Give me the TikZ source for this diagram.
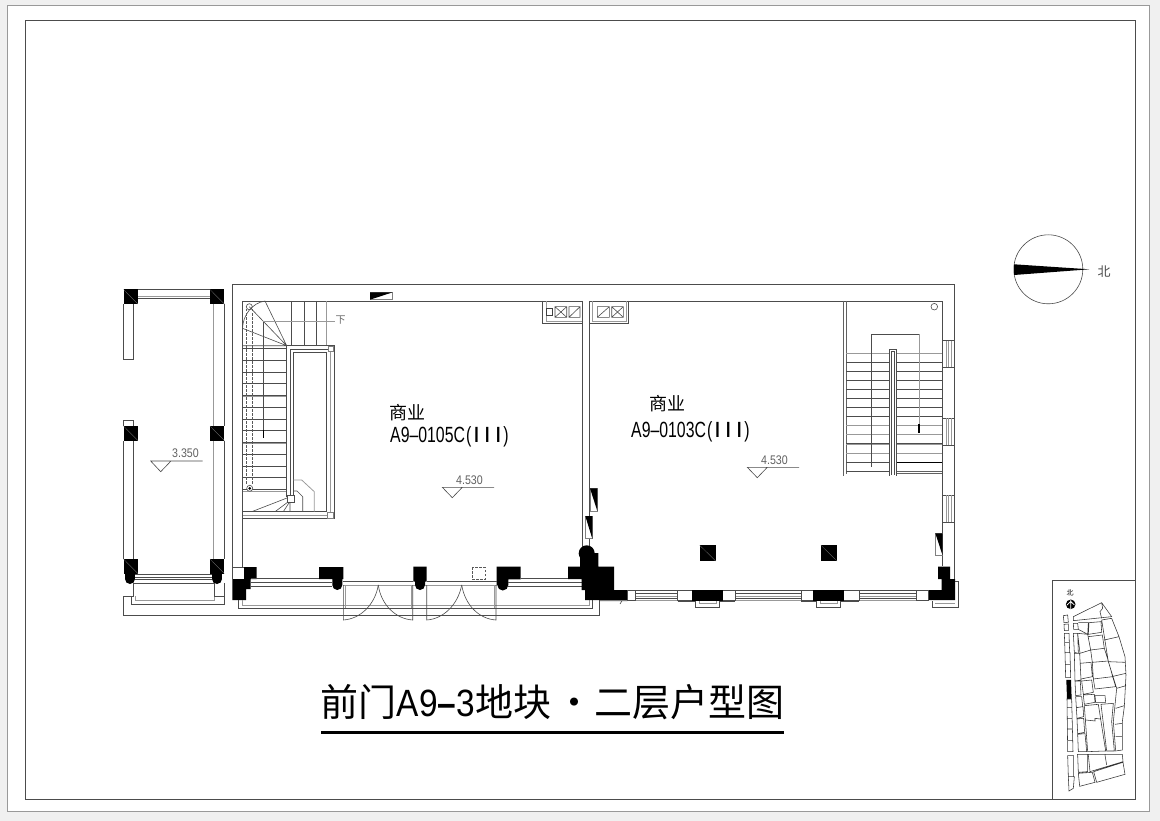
\documentclass[tikz,border=0pt]{standalone}
\usepackage{fontspec}
\setmainfont{Liberation Sans}
\newfontfamily\cjk{Noto Sans CJK SC}
\newcommand{\narrowtxt}[2]{\scalebox{#1}[1]{#2}}
\newcommand{\classthree}{\kern1.5pt(\kern4pt\textbf{I\kern9pt I\kern9pt I}\kern4pt)}
\tikzset{
  planline/.style={draw=black!70, line width=.6pt},
  paleline/.style={draw=black!40, line width=.75pt},
  dashline/.style={draw=black!65, line width=.55pt, dashed, dash pattern=on 2.5pt off 1.5pt},
  solidblock/.style={fill=black, draw=none},
  glassbox/.style={draw=black!50, line width=.5pt, fill=white},
  lvltext/.style={inner sep=0pt, text=black!62, font=\fontsize{12.5}{13}\selectfont},
  roomtext/.style={inner sep=0pt, anchor=west, font=\cjk\fontsize{18}{20}\selectfont},
  codetext/.style={inner sep=0pt, anchor=west, font=\fontsize{22}{23}\selectfont},
}
\begin{document}
\begin{tikzpicture}[x=1pt,y=-1pt]
\useasboundingbox (0,0) rectangle (1160,821);
\fill[black!6] (0,0) rectangle (1160,821);
\fill[white] (7,5) rectangle (1149,811);
% sheet frame
\draw[paleline] (7,5) rectangle (1149,811);
\draw[planline] (25,20) rectangle (1135,799);
% veranda
\foreach \cx/\cy in {123.5/289.5,210/289.5,123.5/426,210/426,123.5/559,210/559}{
  \fill[solidblock] (\cx,\cy) rectangle ++(14.3,14.5);
  \draw[black!55,line width=.3pt] (\cx,\cy) -- ++(14.3,14.5);
}
\fill[solidblock] (125,573) rectangle (135,579);
\fill[solidblock] (135,579) arc[start angle=0,end angle=180,radius=5] -- cycle;
\fill[solidblock] (212,573) rectangle (222,579);
\fill[solidblock] (222,579) arc[start angle=0,end angle=180,radius=5] -- cycle;
\draw[planline] (138,289.5) -- (210,289.5) (138,298) -- (210,298);
\draw[paleline] (138,296) -- (210,296);
\draw[planline] (123.5,304) -- (123.5,359) -- (133.5,359) -- (133.5,304);
\draw[planline] (123.5,426) -- (123.5,420) -- (133.5,420) -- (133.5,426);
\draw[planline] (123.5,441) -- (123.5,559) (133.5,441) -- (133.5,559);
\draw[planline] (224,304) -- (224,426) (224,441) -- (224,559);
\draw[paleline] (213.5,304) -- (213.5,426) (213.5,441) -- (213.5,559);
\draw[planline] (135,574) -- (212,574) (135,577) -- (212,577) (135,579.5) -- (212,579.5);
\draw[planline] (133.5,583) -- (214,583) (133.5,583) -- (133.5,596) (214,583) -- (214,596);
\draw[planline] (224,583) -- (224,604) -- (131,604) -- (131,596);
\draw[paleline] (135,596) -- (135,600.5) -- (214,600.5) -- (214,596);
\draw[planline] (133.5,596) -- (123.5,596) -- (123.5,615) -- (599.5,615) -- (599.5,600);
\draw[planline] (214,596) -- (224,596);
\node[lvltext] (lvlveranda) at (185.5,453.5) {\narrowtxt{.85}{3.350}};
\draw[planline] (202.5,461) -- (150.7,461) -- (160.7,471.7) -- (171,461);
% outer wall
\draw[planline] (232.3,567.7) -- (232.3,284) -- (954.7,284) -- (954.7,581);
\draw[planline] (242.5,567.7) -- (242.5,301) -- (582.3,301) (589.3,301) -- (942,301) -- (942,566);
% stair, left unit
\foreach \ty in {348.3,360.2,371.9,383.5,395.3,407,419,430.7,442.5,454,466,477.7,489.7}{
  \draw[planline] (242.5,\ty) -- (286.7,\ty);
}
\draw[paleline] (242.5,396) -- (286.7,396) (242.5,443) -- (286.7,443) (242.5,491) -- (286.7,491);
\foreach \tx in {291.7,304.3,316.7}{
  \draw[planline] (\tx,301) -- (\tx,345.7);
}
\draw[paleline] (326.7,301) -- (326.7,345.7);
\draw[planline] (286.7,345.7) -- (265,301) (286.7,345.7) -- (249.3,306.7) (286.7,345.7) -- (242.5,328.3) (286.7,345.7) -- (242.5,345.7);
\draw[planline] (265,301) .. controls (252,303) and (243,315) .. (242.5,328.3);
\draw[planline] (249.3,306.7) circle[radius=3];
\draw[dashline] (246.7,309) -- (246.7,485) (252.7,309) -- (252.7,485);
\draw[planline,fill=white] (249.7,488.3) circle[radius=3];
\fill[solidblock] (249.7,488.3) circle[radius=1.5];
\draw[paleline] (263.3,321.7) -- (335,321.7);
\draw[planline] (263.3,321.7) -- (263.3,430);
\draw[black,line width=1.4pt] (263.3,430) -- (263.3,438.3);
\node[inner sep=0pt,text=black!60,font=\cjk\fontsize{10}{10}\selectfont] (txtdown) at (340.5,320) {下};
\draw[planline] (286.7,496.7) -- (286.7,345.7) -- (334,345.7) -- (334,518.3) -- (242.5,518.3);
\draw[planline] (290,496) -- (290,349) -- (330,349) (293.3,496) -- (293.3,352.3) -- (326.7,352.3) (326.7,352.3) -- (326.7,511.7) -- (242.5,511.7);
\draw[paleline] (330,349) -- (330,515) -- (242.5,515);
\draw[glassbox] (328,346) rectangle (333.5,351);
\draw[glassbox] (327.5,512.5) rectangle (333,518);
\draw[glassbox,draw=black!70] (287,495.5) rectangle (294,502);
\draw[planline] (287,498) -- (251.7,511.7) (288,502) -- (275,511.7) (289.5,502) -- (283.3,511.7) (290,502) -- (290,511.7);
\draw[paleline] (293.3,480) -- (301.7,480) -- (314.3,491.7) -- (314.3,511.7);
\draw[planline] (293.3,491) -- (297,491) -- (302.7,496.7) -- (302.7,511.7);
% front wall, left unit
\fill[solidblock] (244,567) rectangle (256.7,579) (232.3,579) rectangle (250.7,589) (232.3,589) rectangle (246,600);
\draw[planline] (232.3,567.7) -- (244,567.7) (232.3,567.7) -- (232.3,579);
\fill[solidblock] (319,567) rectangle (343.3,579) (332.3,579) rectangle (342.3,585);
\fill[solidblock] (342.3,585) arc[start angle=0,end angle=180,radius=5] -- cycle;
\fill[solidblock] (413.3,566.7) rectangle (426.7,581.7) (415,581.7) rectangle (425,585);
\fill[solidblock] (425,585) arc[start angle=0,end angle=180,radius=5] -- cycle;
\fill[solidblock] (496.7,566.7) rectangle (508.3,585) (508.3,566.7) rectangle (520.7,579.3);
\fill[solidblock] (508.3,585) arc[start angle=0,end angle=180,radius=5.5] -- cycle;
\draw[planline] (250.7,578.3) -- (319,578.3) (250.7,582.3) -- (332.3,582.3) (250.7,586.3) -- (332.3,586.3);
\draw[planline] (343,581.7) -- (413.3,581.7) (426.7,581.7) -- (497,581.7);
\draw[paleline] (343,585) -- (415,585) (425,585) -- (497,585);
\draw[planline] (520.7,578.3) -- (583,578.3) (508,582.3) -- (583,582.3) (508,586.7) -- (583,586.7);
\draw[planline] (238.3,600) -- (238.3,608.3) -- (592.7,608.3) -- (592.7,600);
\draw[paleline] (242.3,600) -- (242.3,605) -- (589.3,605) -- (589.3,600);
% doors
\draw[planline] (343.3,585) -- (343.3,620) .. controls (360,619) and (375,605) .. (378.3,585);
\draw[planline] (412.7,585) -- (412.7,620) .. controls (396,619) and (381,605) .. (378.3,585);
\draw[planline] (426.7,585) -- (426.7,620) .. controls (443,619) and (458,605) .. (461.7,585);
\draw[planline] (496,585) -- (496,620) .. controls (479,619) and (465,605) .. (461.7,585);
\draw[paleline] (345,585) -- (345,608) (411,585) -- (411,608) (494.5,585) -- (494.5,608);
\draw[dashline] (472.3,567.3) rectangle (485,579.3);
% party wall and its pier
\draw[planline] (582.3,301) -- (582.3,550) (589.3,301) -- (589.3,550);
\fill[solidblock] (586.7,553.3) circle[radius=8];
\fill[solidblock] (580,553) rectangle (598.3,566.7) (568,566.7) rectangle (614,579) (581.7,579) rectangle (614,590) (585,590) rectangle (627.3,600);
\draw[planline,fill=white] (627.3,590) rectangle (635.7,600.7);
% window wedges
\draw[glassbox] (590,488.3) rectangle (597.3,511);
\fill[solidblock] (590,488.3) -- (597.3,488.3) -- (597.3,511) -- cycle;
\draw[glassbox] (585.3,516) rectangle (592.3,538.7);
\fill[solidblock] (585.3,516) -- (592.3,516) -- (592.3,538.7) -- cycle;
\draw[glassbox] (935.3,533.3) rectangle (942.7,555.7);
\fill[solidblock] (935.3,533.3) -- (942.7,533.3) -- (942.7,555.7) -- cycle;
\draw[glassbox] (370,292.3) rectangle (392.7,299.7);
\fill[solidblock] (370,292.3) -- (392.7,292.3) -- (370,299.7) -- cycle;
% shafts
\draw[planline] (542.7,301) -- (542.7,323.3) -- (582.3,323.3);
\draw[paleline] (546,301) -- (546,321) -- (582.3,321);
\draw[planline] (555,306.7) rectangle (566.7,317.3) (555,306.7) -- (566.7,317.3) (555,317.3) -- (566.7,306.7);
\draw[planline] (569,306.7) rectangle (580,317.3) (569,317.3) -- (580,306.7);
\draw[draw=black!75,line width=.6pt] (546,308.3) rectangle (552.3,315.7);
\draw[planline] (628.3,301) -- (628.3,323.3) -- (589.3,323.3);
\draw[paleline] (592.7,301) -- (592.7,321) -- (626,321) -- (626,301);
\draw[planline] (597.3,306.7) rectangle (609.3,317.3) (597.3,317.3) -- (609.3,306.7);
\draw[planline] (611.7,306.7) rectangle (623.3,317.3) (611.7,306.7) -- (623.3,317.3) (611.7,317.3) -- (623.3,306.7);
% stair, right unit
\draw[draw=black!62,line width=.9pt] (843.3,301) -- (843.3,476) (846,301) -- (846,474);
\foreach \ty in {361.8,371,380,389,398,407,416,425.3,434,443,453,462}{
  \draw[planline] (846,\ty) -- (942,\ty);
}
\draw[paleline] (846,353) -- (942,353) (846,425.5) -- (942,425.5) (846,434.5) -- (942,434.5) (846,444) -- (942,444) (846,453.5) -- (942,453.5);
\draw[planline] (846,471.3) -- (889.3,471.3);
\draw[black,line width=1pt] (896.7,462.3) -- (942,462.3);
\draw[draw=black!62,line width=.8pt] (896.7,471.3) -- (942,471.3) (896.7,473.2) -- (942,473.2);
\draw[planline] (871.3,466.7) -- (871.3,334) -- (919,334);
\draw[paleline] (919,334) -- (919,424);
\draw[black,line width=1.4pt] (919,424) -- (919,432.7);
\draw[planline,fill=white] (889.3,475.7) -- (889.3,349.3) -- (896.7,349.3) -- (896.7,475.7);
\draw[planline] (891.3,475) -- (891.3,351.3) -- (894.7,351.3) -- (894.7,475);
\draw[planline] (934.3,306.7) circle[radius=3.3];
% east windows
\foreach \wy/\wz in {340.7/367.3,418/445.3,495.3/522.3}{
  \draw[planline] (942,\wy) -- (954.7,\wy) (942,\wz) -- (954.7,\wz);
  \draw[paleline] (946,\wy) -- (946,\wz) (948.5,\wy) -- (948.5,\wz) (951.5,\wy) -- (951.5,\wz);
}
% south front, right unit
\foreach \wa/\wb in {635.7/677.7,735.3/801,859.3/916.7}{
  \draw[planline] (\wa,590.7) -- (\wb,590.7) (\wa,593.3) -- (\wb,593.3) (\wa,598.7) -- (\wb,598.7);
  \draw[paleline] (\wa,596) -- (\wb,596) (\wa,600.7) -- (\wb,600.7);
}
\draw[planline] (599.5,600.7) -- (627.3,600.7) (620,604) -- (622,600.7);
\foreach \ba/\bb/\bc/\bd/\be/\bf in {677.7/692.3/722.7/735.3/695.7/719.7,801/813.3/844/859.3/816.7/840.7}{
  \draw[planline] (\ba,590) rectangle (\bd,600.7);
  \fill[solidblock] (\bb,590) rectangle (\bc,600.7);
  \draw[planline] (\ba,601) -- (\be,601) -- (\be,607.3) -- (\bf,607.3) -- (\bf,601) -- (\bd,601);
  \draw[paleline] (\be+3.6,601) -- (\be+3.6,603.3) -- (\bf-3.6,603.3) -- (\bf-3.6,601);
}
\fill[solidblock] (938,566.7) rectangle (950,579) (941.7,579) rectangle (955,600) (928.7,590) rectangle (955,600);
\draw[planline] (916.7,590) rectangle (928.7,600.7);
\draw[planline] (955,581) -- (958.3,581) -- (958.3,607.3) -- (932.7,607.3) -- (932.7,601);
\draw[paleline] (935,603.3) -- (955,603.3);
\foreach \cx in {699.7,821}{
  \fill[solidblock] (\cx,545.3) rectangle ++(16,15.7);
  \draw[black!55,line width=.3pt] (\cx,545.3) -- ++(16,15.7);
}
% room labels
\node[roomtext] (roomA) at (389,413) {商业};
\node[codetext] (codeA) at (390,437) {\narrowtxt{.72}{A9–0105C\classthree}};
\node[roomtext] (roomB) at (649,404) {商业};
\node[codetext] (codeB) at (631,432) {\narrowtxt{.72}{A9–0103C\classthree}};
\node[lvltext] (lvlA) at (469.5,480.5) {\narrowtxt{.85}{4.530}};
\draw[planline] (494,487.3) -- (442.3,487.3) -- (452.3,497.7) -- (462.3,487.3);
\node[lvltext] (lvlB) at (774.5,460.5) {\narrowtxt{.85}{4.530}};
\draw[planline] (799,467.3) -- (747.3,467.3) -- (757.3,477.7) -- (767.3,467.3);
% compass
\draw[planline] (1048.3,269.3) circle[radius=34.5];
\fill[solidblock] (1014,264.3) -- (1089.3,269.3) -- (1014,275) -- cycle;
\node[inner sep=0pt,text=black!70,font=\cjk\fontsize{13}{13}\selectfont] (txtnorth) at (1104,272) {北};
% title
\node[inner sep=0pt,font=\cjk\fontsize{38}{39}\selectfont] (sheettitle) at (552.5,702) {前门\narrowtxt{.88}{\rmfamily A9\textbf{–}3}地块\kern4pt·\kern1pt 二层户型图};
\draw[black,line width=2.6pt] (321,732.5) -- (784,732.5);
% key map
\draw[planline] (1052.3,799) -- (1052.3,580) -- (1135,580);
\node[inner sep=0pt,font=\cjk\fontsize{7}{7}\selectfont] (keynorth) at (1070,593) {北};
\fill[solidblock] (1070.7,604.3) circle[radius=4.8];
\draw[white,line width=.8pt] (1070.7,600) -- (1070.7,609) (1067,605) -- (1070.7,601.5) -- (1074.4,605);
\begin{scope}[shift={(1045,575)},x=.3333pt,y=-.3333pt]
\fill[solidblock] (64,315) -- (78,315) -- (80,372) -- (66,372) -- cycle;
\draw[draw=black!80,line width=.55pt]
  (55,122) -- (68,120) -- (70,142) -- (57,143) -- cycle
  (57,148) -- (70,147) -- (70,167) -- (58,167) -- cycle
  (58,175) -- (72,175) -- (74,233) -- (60,233) -- cycle (59,203) -- (73,203)
  (60,233) -- (75,233) -- (77,308) -- (62,308) -- cycle (61,268) -- (76,268)
  (66,372) -- (80,372) -- (84,530) -- (68,530) -- cycle
  (66,398) -- (81,398) (67,430) -- (82,430) (67,462) -- (83,462) (68,497) -- (84,497)
  (68,542) -- (86,542) -- (86,605) -- (88,605) -- (85,640) -- (72,648) -- (70,605) -- cycle (70,605) -- (86,605)
  (85,125) -- (170,83) -- (200,125) -- (85,137) -- cycle
  (170,83) -- (173,100) -- (165,110) -- (170,130)
  (85,145) -- (98,145) -- (100,163) -- (86,163) -- cycle
  (100,143) -- (130,143) -- (128,178) -- (100,163)
  (132,143) -- (168,140) -- (170,172) -- (130,178) -- cycle
  (170,135) -- (200,130) -- (222,185) -- (240,245) -- (243,300) -- (238,395) -- (232,440) -- (232,525) -- (212,528) -- (205,440) -- (215,340) -- (190,260) -- (170,135)
  (178,195) -- (222,185) (190,260) -- (240,262) (200,305) -- (243,295) (215,340) -- (243,332) (212,400) -- (238,392) (210,448) -- (232,445) (212,485) -- (232,485)
  (85,175) -- (98,175) -- (100,235) -- (88,232) -- cycle
  (98,175) -- (128,178) -- (137,225) -- (105,235) -- cycle
  (130,185) -- (172,180) -- (178,220) -- (137,225)
  (137,225) -- (178,220) -- (190,258) -- (142,262) -- cycle
  (88,235) -- (104,235) -- (108,315) -- (90,318) -- cycle
  (105,265) -- (138,262) -- (142,305) -- (108,312)
  (142,262) -- (190,258) -- (203,305) -- (145,312) -- cycle
  (145,312) -- (203,305) -- (212,335) -- (150,342) -- cycle
  (90,318) -- (106,318) -- (108,360) -- (92,362) -- cycle
  (110,318) -- (140,315) -- (145,352) -- (115,358) -- cycle
  (92,365) -- (110,365) -- (113,395) -- (94,398) -- cycle
  (115,360) -- (148,358) -- (150,382) -- (118,388) -- cycle
  (150,362) -- (180,362) -- (182,382) -- (152,382) -- cycle
  (94,398) -- (114,395) -- (116,425) -- (96,430) -- cycle
  (96,432) -- (116,430) -- (119,472) -- (98,476) -- cycle
  (98,478) -- (120,476) -- (125,530) -- (100,530) -- cycle
  (118,392) -- (160,388) -- (182,528) -- (128,530) -- cycle
  (122,435) -- (150,438) -- (150,430) -- (165,432)
  (168,388) -- (205,385) -- (200,440) -- (208,528) -- (185,528) -- cycle
  (96,538) -- (232,538) -- (234,560) -- (135,590) -- (130,540)
  (128,540) -- (128,590) -- (100,592) -- (98,540)
  (180,540) -- (185,570)
  (100,595) -- (142,592) -- (150,622) -- (104,634) -- cycle
  (146,590) -- (234,562) -- (240,598) -- (155,622) -- cycle;
\end{scope}
\end{tikzpicture}
\end{document}
